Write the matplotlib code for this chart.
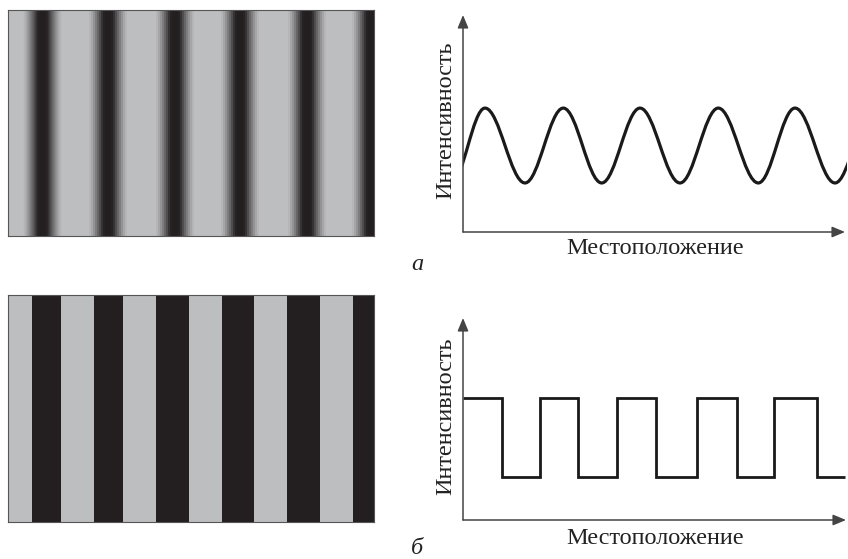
import numpy as np
import matplotlib
matplotlib.use("Agg")
import matplotlib.pyplot as plt
from matplotlib.colors import LinearSegmentedColormap
from matplotlib.path import Path
from matplotlib.patches import PathPatch

# --- data ---
# (a) smooth grating: dark stripe centres (px from the left edge of the image)
grating_centres = [34.5, 100, 167, 232, 299, 363]
grating_width = 366
# brightness (0..255) by distance in px from a dark stripe centre
grating_profile = [35, 35, 36, 38, 40, 45, 55, 68, 80, 92, 104, 115, 126, 137,
                   148, 158, 167, 175, 182, 187, 190]

# (a) intensity curve: extrema positions and levels (axis fraction)
sine_x = [-12, 22, 62, 100.3, 138.7, 177, 217, 255.3, 295.3, 332, 372, 410]
sine_peak = 0.571
sine_trough = 0.226

# (б) square grating: dark bar start / end (px from left edge of the image)
bar_start = [24, 86, 148, 214, 279, 345]
bar_end = [53, 115, 181, 246, 312, 366]

# (б) square intensity: step edges and levels
step_edges = [0, 38.7, 77, 115.3, 153.7, 193, 233.7, 273.7, 311, 353.7, 382]
step_high = 0.604
step_low = 0.213

ylabel = "Интенсивность"
xlabel = "Местоположение"
panel_labels = ["а", "б"]

LIGHT = "#bdbec0"
DARK = "#231f20"
AXIS = "#444444"
SERIF = ["Liberation Serif", "DejaVu Serif"]

W, H = 848, 559


def px_rect(x0, y0, x1, y1):
    return [x0 / W, 1 - y1 / H, (x1 - x0) / W, (y1 - y0) / H]


def frame(ax):
    ax.set_xticks([])
    ax.set_yticks([])
    for s in ax.spines.values():
        s.set_color("#555555")
        s.set_linewidth(0.8)


def axis_arrows(ax, x_tip):
    style = dict(arrowstyle="-|>,head_length=0.6,head_width=0.25", color=AXIS,
                 lw=1.1, mutation_scale=13, shrinkA=0, shrinkB=0)
    ax.annotate("", xy=(0, 1), xytext=(0, 0), xycoords="axes fraction",
                arrowprops=style, annotation_clip=False)
    ax.annotate("", xy=(x_tip, 0), xytext=(0, 0), xycoords="axes fraction",
                arrowprops=style, annotation_clip=False)
    ax.axis("off")


fig = plt.figure(figsize=(W / 100, H / 100), dpi=100)
cmap = LinearSegmentedColormap.from_list("grat", [DARK, LIGHT])

# --- (a) smooth grating image ---
ax_ga = fig.add_axes(px_rect(8, 10, 374, 236))
cols = np.arange(grating_width) + 0.5
dist = np.min(np.abs(cols[:, None] - np.array(grating_centres)[None, :]), axis=1)
idx = np.minimum(np.round(dist).astype(int), len(grating_profile) - 1)
row = np.array(grating_profile)[idx]
ax_ga.imshow(row[None, :], cmap=cmap, vmin=35, vmax=190, aspect="auto",
             interpolation="nearest", extent=[0, grating_width, 0, 1])
frame(ax_ga)

# --- (б) square grating image ---
ax_gb = fig.add_axes(px_rect(8, 295, 374, 522))
ax_gb.set_facecolor(LIGHT)
for s, e in zip(bar_start, bar_end):
    ax_gb.axvspan(s, e, color=DARK, lw=0)
ax_gb.set_xlim(0, grating_width)
ax_gb.set_ylim(0, 1)
frame(ax_gb)

# --- (a) intensity curve ---
ax_a = fig.add_axes(px_rect(463, 15, 847, 232))
ax_a.set_xlim(0, 384)
ax_a.set_ylim(0, 1)
levels = [sine_trough if i % 2 == 0 else sine_peak for i in range(len(sine_x))]
k = 0.364
verts = [(sine_x[0], levels[0])]
codes = [Path.MOVETO]
for i in range(1, len(sine_x)):
    x0, y0 = sine_x[i - 1], levels[i - 1]
    x1, y1 = sine_x[i], levels[i]
    dx = x1 - x0
    verts += [(x0 + k * dx, y0), (x1 - k * dx, y1), (x1, y1)]
    codes += [Path.CURVE4] * 3
ax_a.add_patch(PathPatch(Path(verts, codes), fill=False, lw=2.3, edgecolor="#1a1a1a"))
axis_arrows(ax_a, 382 / 384)

# --- (б) square intensity ---
ax_b = fig.add_axes(px_rect(463, 318, 847, 520))
ax_b.set_xlim(0, 384)
ax_b.set_ylim(0, 1)
step_levels = [step_high if i % 2 == 0 else step_low for i in range(len(step_edges) - 1)]
ax_b.stairs(step_levels, step_edges, baseline=None, color="#1a1a1a", lw=2.0,
            joinstyle="miter")
axis_arrows(ax_b, 383 / 384)

# --- texts ---
fs = 17.5
fig.text(446 / W, 1 - 120 / H, ylabel, rotation=90, ha="center", va="center",
         family=SERIF, size=fs, color="#222222")
fig.text(446 / W, 1 - 416 / H, ylabel, rotation=90, ha="center", va="center",
         family=SERIF, size=fs, color="#222222")
fig.text(655 / W, 1 - 249 / H, xlabel, ha="center", va="center",
         family=SERIF, size=fs, color="#222222")
fig.text(655 / W, 1 - 538 / H, xlabel, ha="center", va="center",
         family=SERIF, size=fs, color="#222222")
fig.text(417 / W, 1 - 264 / H, panel_labels[0], ha="center", va="center",
         family=SERIF, style="italic", size=fs, color="#222222")
fig.text(417 / W, 1 - 549 / H, panel_labels[1], ha="center", va="center",
         family=SERIF, style="italic", size=fs, color="#222222")

fig.savefig("out.png", dpi=100)
